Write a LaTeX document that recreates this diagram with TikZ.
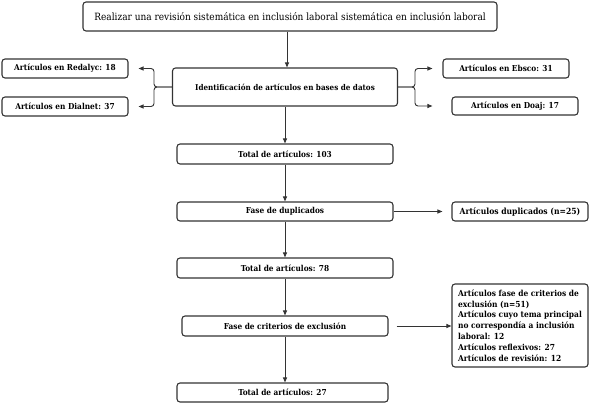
\documentclass[tikz,border=0pt]{standalone}
\usepackage{fontspec}
\setmainfont{DejaVu Serif Condensed}
\usetikzlibrary{arrows.meta}
\definecolor{ln}{HTML}{333333}
\tikzset{
  box/.style={draw=ln, line width=1.1pt, rounded corners=3pt, inner sep=0pt, align=center, text=black, font=\fontsize{8.2}{9.5}\selectfont\bfseries},
  conn/.style={draw=ln, line width=0.9pt, -{Triangle[length=5pt,width=4pt]}},
  link/.style={draw=ln, line width=0.9pt, rounded corners=3pt, -{Triangle[length=5pt,width=4pt]}}
}
\begin{document}
\begin{tikzpicture}[x=1pt,y=-1pt]
\useasboundingbox (0,0) rectangle (589,404);
\node[box, minimum width=414pt, minimum height=29pt, font=\fontsize{10}{12}\selectfont] (top) at (290,16.5) {Realizar una revisión sistemática en inclusión laboral sistemática en inclusión laboral};
\node[box, minimum width=225pt, minimum height=38pt, font=\fontsize{8}{9.5}\selectfont\bfseries] (ident) at (285,87) {Identificación de artículos en bases de datos};
\node[box, minimum width=126pt, minimum height=19pt] (red) at (65,68.5) {Artículos en Redalyc: 18};
\node[box, minimum width=126pt, minimum height=19pt] (dia) at (65,106.5) {Artículos en Dialnet: 37};
\node[box, minimum width=126pt, minimum height=19pt] (ebs) at (506,68.5) {Artículos en Ebsco: 31};
\node[box, minimum width=126pt, minimum height=18pt] (doa) at (515,106) {Artículos en Doaj: 17};
\node[box, minimum width=216pt, minimum height=20pt] (t1) at (285,154) {Total de artículos: 103};
\node[box, minimum width=216pt, minimum height=19pt] (fd) at (285,211.5) {Fase de duplicados};
\node[box, minimum width=136pt, minimum height=19pt, font=\fontsize{8.5}{10}\selectfont\bfseries] (dup) at (520,211.5) {Artículos duplicados (n=25)};
\node[box, minimum width=216pt, minimum height=20pt] (t2) at (285,268) {Total de artículos: 78};
\node[box, minimum width=206pt, minimum height=20pt] (fc) at (285,326) {Fase de criterios de exclusión};
\node[box, minimum width=136pt, minimum height=83pt, align=left, font=\fontsize{8.3}{10.8}\selectfont\bfseries] (exc) at (520,325.5) {Artículos fase de criterios de\\exclusión (n=51)\\Artículos cuyo tema principal\\no correspondía a inclusión\\laboral: 12\\Artículos reflexivos: 27\\Artículos de revisión: 12};
\node[box, minimum width=211pt, minimum height=19pt] (t3) at (282.5,392.5) {Total de artículos: 27};
% vertical arrows
\coordinate (topo) at (287,31);
\draw[conn] (top.south -| topo) -- (ident.north -| topo);
\draw[conn] (ident.south) -- (t1.north);
\draw[conn] (t1.south) -- (fd.north);
\draw[conn] (fd.south) -- (t2.north);
\draw[conn] (t2.south) -- (fc.north);
\draw[conn] (fc.south) -- (fc.south |- t3.north);
% brackets
\coordinate (lb) at (154,87);
\coordinate (rb) at (415,87);
\draw[link] (ident.west) -- (lb) |- ([xshift=10pt]red.east);
\draw[link] (ident.west) -- (lb) |- ([xshift=10pt]dia.east);
\draw[link] (ident.east) -- (rb) |- ([xshift=-10pt]ebs.west);
\draw[link] (ident.east) -- (rb) |- ([xshift=-19pt]doa.west);
% side arrows
\draw[conn] (fd.east) -- ([xshift=-9pt]dup.west);
\draw[conn] ([xshift=8pt]fc.east) -- (fc.east -| exc.west);
\end{tikzpicture}
\end{document}
